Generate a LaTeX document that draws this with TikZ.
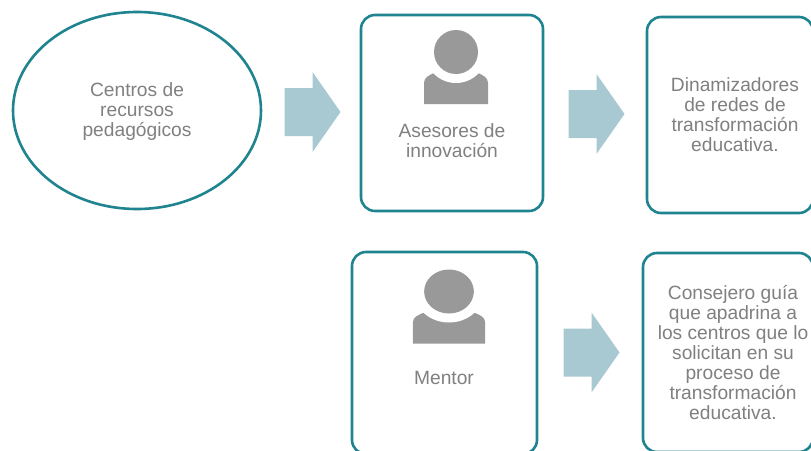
\documentclass[tikz,border=0pt]{standalone}
\usepackage{fontspec}
\setmainfont{Liberation Sans}
\usetikzlibrary{shapes,arrows,positioning}
\definecolor{borde}{HTML}{1F8390}
\definecolor{flecha}{HTML}{A9C9D2}
\definecolor{texto}{HTML}{808080}
\definecolor{figura}{HTML}{999999}
\tikzset{
	caja/.style={draw=borde,line width=2.6pt,rectangle,rounded corners=14pt,fill=white},
	etiqueta/.style={text=texto,align=center,font=\fontsize{19.2}{20}\selectfont,inner sep=0pt},
	persona/.pic={
		\fill[figura] (-32,52) -- (-32,31) to[out=90,in=205] (-22,21) -- (22,21) to[out=-25,in=90] (32,31) -- (32,52) -- cycle;
		\fill[white] (0,0) circle (31);
		\fill[figura] (0,0) circle (22);
	},
	bloque/.pic={
		\fill[flecha] (-28,-24) -- (0,-24) -- (0,-40) -- (28,0) -- (0,40) -- (0,24) -- (-28,24) -- cycle;
	}
}
\begin{document}
\begin{tikzpicture}[x=1pt,y=-1pt]
	\path[use as bounding box,clip] (0,0) rectangle (811,450);
	\node[draw=borde,line width=2.6pt,ellipse,minimum width=248pt,minimum height=197pt] (centros) at (137,110.5) {};
	\node[caja,minimum width=182pt,minimum height=196pt] (asesores) at (452,113) {};
	\node[caja,minimum width=166pt,minimum height=196pt] (dinamizadores) at (730,115) {};
	\node[caja,minimum width=185pt,minimum height=202pt] (mentor) at (444.5,353) {};
	\node[caja,minimum width=170pt,minimum height=199pt] (consejero) at (728,352.5) {};
	\pic at (312.5,112) {bloque};
	\pic at (596.5,114) {bloque};
	\pic at (591.5,352.5) {bloque};
	\pic at (456,52) {persona};
	\pic[xscale=1.13] at (449,291.5) {persona};
	\node[etiqueta] (t1) at (137,112) {Centros de\\recursos\\pedagógicos};
	\node[etiqueta] (t2) at (452,141) {Asesores de\\innovación};
	\node[etiqueta] (t3) at (735,115) {Dinamizadores\\de redes de\\transformación\\educativa.};
	\node[etiqueta] (t4) at (444,378) {Mentor};
	\node[etiqueta] (t5) at (733,353) {Consejero guía\\que apadrina a\\los centros que lo\\solicitan en su\\proceso de\\transformación\\educativa.};
\end{tikzpicture}
\end{document}
